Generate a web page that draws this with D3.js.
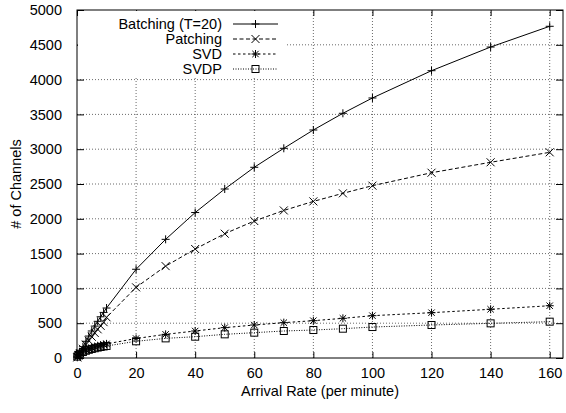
<!DOCTYPE html>
<html><head><meta charset="utf-8">
<script src="https://cdn.jsdelivr.net/npm/d3@7"></script>
<style>
html,body{margin:0;padding:0;background:#fff;}
svg{display:block;font-family:"Liberation Sans",Arial,Helvetica,sans-serif;}
</style></head>
<body><svg id="chart" width="566" height="413"></svg>
<script>
// ---- data ----
const rates = [0.1, 0.5, 1, 2, 3, 4, 5, 6, 7, 8, 9, 10, 20, 30, 40, 50, 60, 70, 80, 90, 100, 120, 140, 160];
const batching = [10, 42, 82, 162, 240, 315, 388, 458, 527, 592, 655, 718, 1275, 1705, 2090, 2428, 2740, 3013, 3276, 3516, 3736, 4128, 4468, 4766];
const patching = [8, 36, 68, 132, 192, 250, 305, 360, 412, 462, 515, 585, 1015, 1320, 1566, 1786, 1968, 2120, 2250, 2366, 2476, 2662, 2812, 2955];
const svd = [25, 52, 72, 98, 117, 133, 147, 160, 172, 183, 193, 203, 280, 340, 388, 436, 474, 508, 536, 570, 608, 651, 700, 751];
const svdp = [20, 45, 62, 86, 104, 118, 130, 140, 150, 158, 166, 173, 240, 282, 306, 340, 364, 388, 402, 421, 445, 474, 498, 522];
const seriesNames = ["Batching (T=20)", "Patching", "SVD", "SVDP"];
const xTicks = [0, 20, 40, 60, 80, 100, 120, 140, 160];
const yTicks = [0, 500, 1000, 1500, 2000, 2500, 3000, 3500, 4000, 4500, 5000];
const xTitle = "Arrival Rate (per minute)";
const yTitle = "# of Channels";

// ---- layout ----
const L = 77, R = 563, T = 10, B = 358;
const svg = d3.select("#chart");
const x = d3.scaleLinear().domain([0, 164.5]).range([L, R]);
const y = d3.scaleLinear().domain([0, 5000]).range([B, T]);
const FS = 14.5;

const series = [
  {name: seriesNames[0], vals: batching, dash: null, marker: "plus"},
  {name: seriesNames[1], vals: patching, dash: "4,2.5", marker: "cross"},
  {name: seriesNames[2], vals: svd, dash: "2.5,2.5", marker: "star"},
  {name: seriesNames[3], vals: svdp, dash: "1,1.5", marker: "square"}
];

// grid
const grid = svg.append("g");
xTicks.filter(d => d > 0 && d < 164).forEach(d => {
  grid.append("line").attr("x1", x(d)).attr("x2", x(d)).attr("y1", B).attr("y2", T)
    .attr("stroke", "#444").attr("stroke-width", 0.8).attr("stroke-dasharray", "1,2");
});
yTicks.filter(d => d > 0 && d < 5000).forEach(d => {
  grid.append("line").attr("x1", L).attr("x2", R).attr("y1", y(d)).attr("y2", y(d))
    .attr("stroke", "#444").attr("stroke-width", 0.8).attr("stroke-dasharray", "1,2");
});

// axes via d3
const ax = svg.append("g").attr("transform", `translate(0,${B})`)
  .call(d3.axisBottom(x).tickValues(xTicks).tickSize(-6).tickPadding(10).tickFormat(d3.format("d")));
const axT = svg.append("g").attr("transform", `translate(0,${T})`)
  .call(d3.axisTop(x).tickValues(xTicks).tickSize(-6).tickFormat(""));
const ay = svg.append("g").attr("transform", `translate(${L},0)`)
  .call(d3.axisLeft(y).tickValues(yTicks).tickSize(-7).tickPadding(15).tickFormat(d3.format("d")));
const ayR = svg.append("g").attr("transform", `translate(${R},0)`)
  .call(d3.axisRight(y).tickValues(yTicks).tickSize(-7).tickFormat(""));
[ax, axT, ay, ayR].forEach(g => {
  g.select(".domain").remove();
  g.selectAll("line").attr("stroke", "#000");
  g.selectAll("text").attr("font-size", FS).attr("font-family", "Liberation Sans, Arial, sans-serif").attr("fill", "#000");
});

// legend background (opaque key)
svg.append("rect").attr("x", L + 1).attr("y", T + 1).attr("width", 207).attr("height", 66).attr("fill", "#fff");

// markers
function drawMarker(g, type, cx, cy) {
  const s = 4;
  if (type === "plus" || type === "star") {
    g.append("path").attr("d", `M${cx - s},${cy}H${cx + s}M${cx},${cy - s}V${cy + s}`).attr("stroke", "#000").attr("stroke-width", 1).attr("fill", "none");
  }
  if (type === "cross" || type === "star") {
    const c = type === "star" ? 3.2 : 4;
    g.append("path").attr("d", `M${cx - c},${cy - c}L${cx + c},${cy + c}M${cx - c},${cy + c}L${cx + c},${cy - c}`).attr("stroke", "#000").attr("stroke-width", 1).attr("fill", "none");
  }
  if (type === "square") {
    g.append("rect").attr("x", cx - 3.5).attr("y", cy - 3.5).attr("width", 7).attr("height", 7).attr("stroke", "#000").attr("stroke-width", 1).attr("fill", "none");
  }
}

const plot = svg.append("g");
const line = d3.line().x((d, i) => x(rates[i])).y(d => y(d));
series.forEach(s => {
  plot.append("path").datum(s.vals).attr("d", line).attr("fill", "none").attr("stroke", "#000")
    .attr("stroke-width", 1).attr("stroke-dasharray", s.dash);
  const mg = plot.append("g");
  s.vals.forEach((v, i) => drawMarker(mg, s.marker, x(rates[i]), y(v)));
});

// legend
const leg = svg.append("g");
series.forEach((s, i) => {
  const ly = 24 + i * 15;
  leg.append("text").attr("x", 222).attr("y", ly).attr("dy", "0.35em").attr("text-anchor", "end")
    .attr("font-size", FS).text(s.name);
  leg.append("line").attr("x1", 233).attr("x2", 278).attr("y1", ly).attr("y2", ly)
    .attr("stroke", "#000").attr("stroke-width", 1).attr("stroke-dasharray", s.dash);
  drawMarker(leg, s.marker, 255.5, ly);
});

// frame
svg.append("rect").attr("x", L).attr("y", T).attr("width", R - L).attr("height", B - T)
  .attr("fill", "none").attr("stroke", "#000").attr("stroke-width", 1);

// titles
svg.append("text").attr("x", (L + R) / 2).attr("y", 391).attr("dy", "0.35em").attr("text-anchor", "middle")
  .attr("font-size", FS).text(xTitle);
svg.append("text").attr("transform", `translate(16,${(T + B) / 2}) rotate(-90)`).attr("dy", "0.35em")
  .attr("text-anchor", "middle").attr("font-size", FS).text(yTitle);
</script></body></html>
